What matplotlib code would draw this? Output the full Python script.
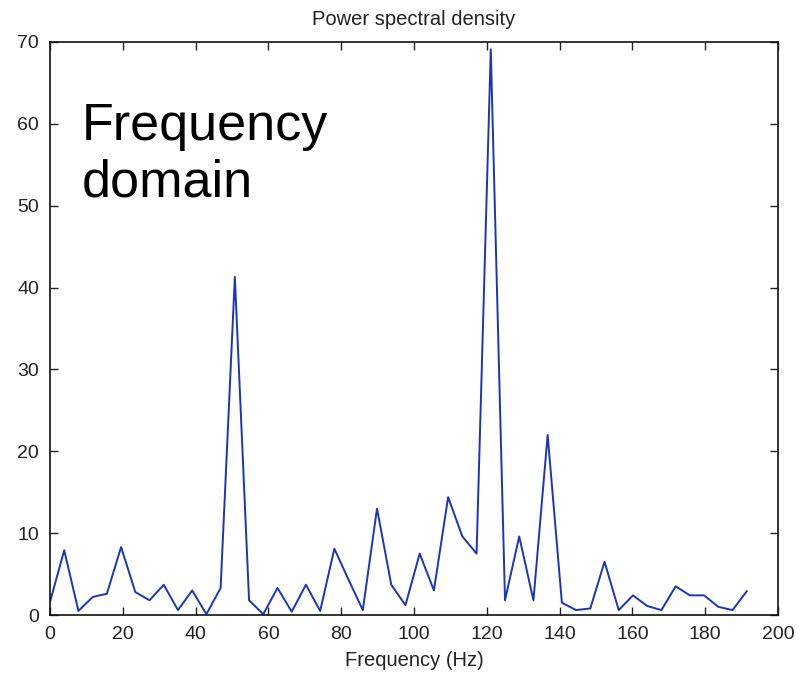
import matplotlib
matplotlib.use("Agg")
import matplotlib.pyplot as plt
import numpy as np

# Frequency bins (Hz): 1000/256 spacing
freq_step = 1000.0 / 256.0
n_bins = 50
freqs = np.arange(n_bins) * freq_step

psd = [1.6, 7.9, 0.5, 2.2, 2.6, 8.3, 2.8, 1.8, 3.7, 0.6,
       3.0, 0.1, 3.3, 41.3, 1.8, 0.1, 3.3, 0.4, 3.7, 0.5,
       8.1, 4.3, 0.6, 13.0, 3.7, 1.2, 7.5, 3.0, 14.4, 9.6,
       7.5, 69.1, 1.8, 9.6, 1.8, 22.0, 1.5, 0.6, 0.8, 6.5,
       0.6, 2.4, 1.1, 0.6, 3.5, 2.4, 2.4, 1.0, 0.6, 2.9]

xticks = [0, 20, 40, 60, 80, 100, 120, 140, 160, 180, 200]
yticks = [0, 10, 20, 30, 40, 50, 60, 70]

plt.rcParams['font.family'] = ['Liberation Sans', 'DejaVu Sans']

fig = plt.figure(figsize=(8.01, 6.77), dpi=100)
ax = fig.add_axes([50/801, 1 - 615/677, (778-50)/801, (615-42)/677])

ax.plot(freqs, psd, color='#1a36b8', lw=1.4)
ax.set_xlim(0, 200)
ax.set_ylim(0, 70)
ax.set_xticks(xticks)
ax.set_yticks(yticks)
ax.tick_params(direction='in', length=6, width=1, top=True, right=True,
               labelsize=14, colors='#222222', pad=8)
for s in ax.spines.values():
    s.set_linewidth(1.2)
    s.set_color('#111111')

ax.set_title('Power spectral density', fontsize=14.5, color='#222222', pad=12.5)
ax.set_xlabel('Frequency (Hz)', fontsize=14.5, color='#222222', labelpad=6)

fig.text(82/801, 1 - 197/677, 'Frequency\ndomain', fontsize=37.5,
         color='black', ha='left', va='baseline', linespacing=1.2)

fig.savefig('out.png', dpi=100)
